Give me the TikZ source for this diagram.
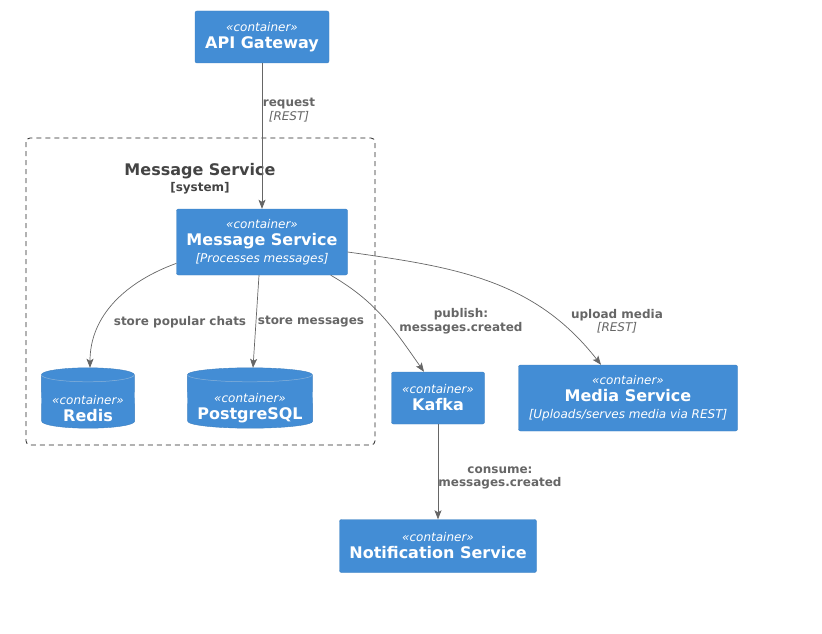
\documentclass[tikz,border=0pt]{standalone}
\usepackage{fontspec}
\setmainfont{DejaVu Sans}
\usetikzlibrary{arrows.meta, positioning, backgrounds}
\definecolor{boxblue}{HTML}{438DD5}
\definecolor{boxline}{HTML}{3C7FC0}
\definecolor{edgegray}{HTML}{666666}
\definecolor{titlegray}{HTML}{444444}
\newcommand{\stereo}{{\fontsize{12}{17}\selectfont\itshape «container»}}
\newcommand{\cname}[1]{{\fontsize{16}{17}\selectfont\bfseries #1}}
\newcommand{\cdesc}[1]{{\fontsize{12}{17}\selectfont\itshape [#1]}}
% database drum behind a named node: #1 node, #2 half width
\newcommand{\dbdrum}[2]{
  \begin{scope}[on background layer]
    \path [fill=boxblue, draw=boxline]
      ([yshift=-7pt]#1.north west) arc[start angle=180, end angle=0, x radius=#2, y radius=7pt]
      -- ([yshift=7pt]#1.south east) arc[start angle=0, end angle=-180, x radius=#2, y radius=7pt]
      -- cycle;
    \draw [boxline!60!white, line width=0.5pt]
      ([yshift=-7pt]#1.north west) arc[start angle=180, end angle=360, x radius=#2, y radius=7pt];
  \end{scope}
}
\tikzset{
        >={Stealth[length=9pt, width=7pt, inset=2pt]}, % arrow heads
        container/.style={
		fill=boxblue,
		draw=boxline,
		rounded corners=2pt,
		text=white,
		align=center,
		inner sep=0pt,
		font=\fontsize{12}{17}\selectfont,
	  },
        database/.style={
		text=white,
		align=center,
		inner sep=0pt,
		font=\fontsize{12}{17}\selectfont,
	  },
        rel/.style={
		->,
		draw=edgegray,
		line width=0.7pt,
	  },
        edgelabel/.style={
		text=edgegray,
		align=center,
		font=\fontsize{12}{13.5}\selectfont\bfseries,
	  },
    }

\begin{document}
\begin{tikzpicture}[x=1pt, y=-1pt]
    \useasboundingbox (0,0) rectangle (822,634);
    % system boundary
    \draw [dash pattern=on 5pt off 4pt, rounded corners=4pt, line width=0.8pt, black!85] (26,138) rectangle (375,445);
    \node [text=titlegray, align=center, font=\fontsize{16}{16}\selectfont\bfseries] (systitle) at (200,179)
      {Message Service\\{\fontsize{12}{14}\selectfont [system]}};
    % containers
    \node [container, minimum width=134, minimum height=52] (api) at (262,37)
      {\stereo\\\cname{API Gateway}};
    \node [container, minimum width=171, minimum height=66] (msg) at (262,242)
      {\stereo\\\cname{Message Service}\\\cdesc{Processes messages}};
    \node [database, minimum width=93, minimum height=60] (redis) at (88,398)
      {\mbox{}\\[13pt]\stereo\\\cname{Redis}};
    \dbdrum{redis}{46.5pt}
    \node [database, minimum width=125, minimum height=60] (pg) at (250,398)
      {\mbox{}\\[13pt]\stereo\\\cname{PostgreSQL}};
    \dbdrum{pg}{62.5pt}
    \node [container, minimum width=93, minimum height=52] (kafka) at (438,398)
      {\stereo\\\cname{Kafka}};
    \node [container, minimum width=219, minimum height=66] (media) at (628,398)
      {\stereo\\\cname{Media Service}\\\cdesc{Uploads/serves media via REST}};
    \node [container, minimum width=197, minimum height=53] (notif) at (438,546)
      {\stereo\\\cname{Notification Service}};
    % relations
    \draw [rel] (api) -- (msg);
    \draw [rel] (msg.194) to[out=200, in=90] ([xshift=2pt]redis.north);
    \draw [rel] (msg.south) ++(-3,0) coordinate (msgpg) (msgpg) -- ([xshift=3pt]pg.north);
    \draw [rel] (msg.south east) ++(-17,0) coordinate (msgk) (msgk) to[out=-30, in=125] ([xshift=-14pt]kafka.north);
    \draw [rel] (msg.east) ++(0,10) coordinate (msgm) (msgm) to[out=-8, in=128] ([xshift=-27pt]media.north);
    \draw [rel] (kafka) -- (notif);
    % labels
    \node [edgelabel] (lreq) at (289,110) {request\\{\mdseries\itshape [REST]}};
    \node [edgelabel] (lredis) at (180,322) {store popular chats};
    \node [edgelabel] (lpg) at (311,322) {store messages};
    \node [edgelabel] (lpub) at (461,321) {publish:\\messages.created};
    \node [edgelabel] (lmedia) at (617,321) {upload media\\{\mdseries\itshape [REST]}};
    \node [edgelabel] (lcons) at (500,478) {consume:\\messages.created};
\end{tikzpicture}
\end{document}
